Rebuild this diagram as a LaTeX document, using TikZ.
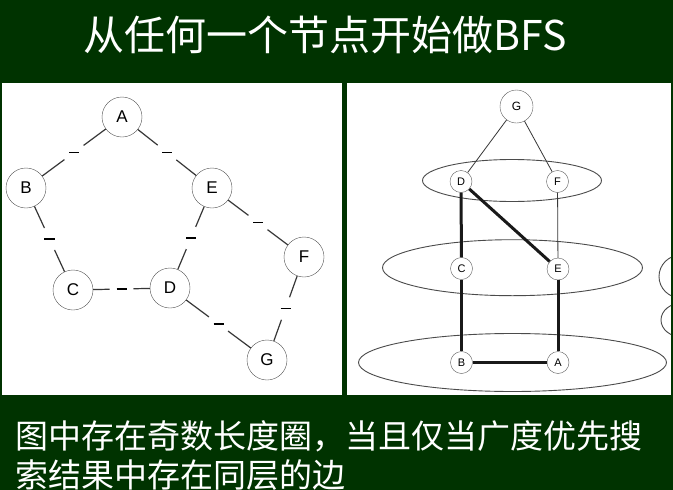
\documentclass[tikz,border=0pt]{standalone}
\usepackage{fontspec}
\setsansfont{Liberation Sans}
\newfontfamily\cjk{Noto Sans CJK SC}
\usetikzlibrary{positioning}
\definecolor{boardgreen}{RGB}{0,51,0}
\definecolor{linegray}{RGB}{55,55,55}
\tikzset{
  lnode/.style={circle,draw=linegray!85,fill=white,minimum size=40pt,inner sep=0pt,font=\sffamily\fontsize{17}{17}\selectfont},
  ledge/.style={draw=linegray,line width=1.2pt},
  midmark/.style={circle,fill=white,minimum size=24pt,inner sep=0pt},
  rnode/.style={circle,draw=linegray!80,fill=white,minimum size=22pt,inner sep=0pt,font=\sffamily\fontsize{11}{11}\selectfont},
  thinedge/.style={draw=linegray,line width=0.8pt},
  thickedge/.style={draw=black!90,line width=3pt},
  layer/.style={draw=linegray!90,line width=0.9pt},
  whitetext/.style={text=white,inner sep=0pt}
}
\begin{document}
\begin{tikzpicture}[x=1pt,y=-1pt]
		\fill[boardgreen] (0,0) rectangle (673,490);
		\useasboundingbox (0,0) rectangle (673,490);
		\fill[white] (2,83) rectangle (342,395);
		\fill[white] (347,83) rectangle (671,395);
		\node[whitetext,font=\cjk\fontsize{41}{41}\selectfont] (title) at (325,35) {从任何一个节点开始做BFS};
		\node[whitetext,anchor=west,font=\cjk\fontsize{33}{33}\selectfont] (line1) at (15,436) {图中存在奇数长度圈，当且仅当广度优先搜};
		\node[whitetext,anchor=west,font=\cjk\fontsize{33}{33}\selectfont] (line2) at (15,475) {索结果中存在同层的边};
		% left graph
		\node[lnode] (lA) at (122,117) {A};
		\node[lnode] (lB) at (26,188) {B};
		\node[lnode] (lE) at (212,188) {E};
		\node[lnode] (lF) at (304,257) {F};
		\node[lnode] (lC) at (73,290) {C};
		\node[lnode] (lD) at (170,288) {D};
		\node[lnode] (lG) at (267,360) {G};
		\foreach \u/\v in {lA/lB,lA/lE,lB/lC,lE/lD,lE/lF,lC/lD,lD/lG,lF/lG}
			\draw[ledge] (\u) -- node[midmark]{\rule{10pt}{1.2pt}} (\v);
		% right graph: BFS layers
		\draw[layer] (512,180.5) ellipse [x radius=89.5, y radius=21];
		\draw[layer] (512.5,267.7) ellipse [x radius=130, y radius=28];
		\draw[layer] (512.5,362.5) ellipse [x radius=154, y radius=29];
		\begin{scope}
			\clip (347,83) rectangle (671,395);
			\draw[layer] (681,276.5) ellipse [x radius=22, y radius=21.5];
			\draw[layer] (682,320) ellipse [x radius=21, y radius=17];
		\end{scope}
		\node[rnode,minimum size=33pt,font=\sffamily\fontsize{12}{12}\selectfont] (rG) at (516.5,106.5) {G};
		\node[rnode] (rD) at (461,181.5) {D};
		\node[rnode] (rF) at (557.5,181.5) {F};
		\node[rnode] (rC) at (461.5,268.5) {C};
		\node[rnode] (rE) at (558,269) {E};
		\node[rnode] (rB) at (461.5,362.5) {B};
		\node[rnode] (rA) at (558,362.5) {A};
		\draw[thinedge] (rG) -- (rD);
		\draw[thinedge] (rG) -- (rF);
		\draw[thinedge] (rF) -- (rE);
		\draw[thickedge] (rD) -- (rC);
		\draw[thickedge] (rD) -- (rE);
		\draw[thickedge] (rC) -- (rB);
		\draw[thickedge] (rE) -- (rA);
		\draw[thickedge] (rB) -- (rA);
	\end{tikzpicture}
\end{document}
